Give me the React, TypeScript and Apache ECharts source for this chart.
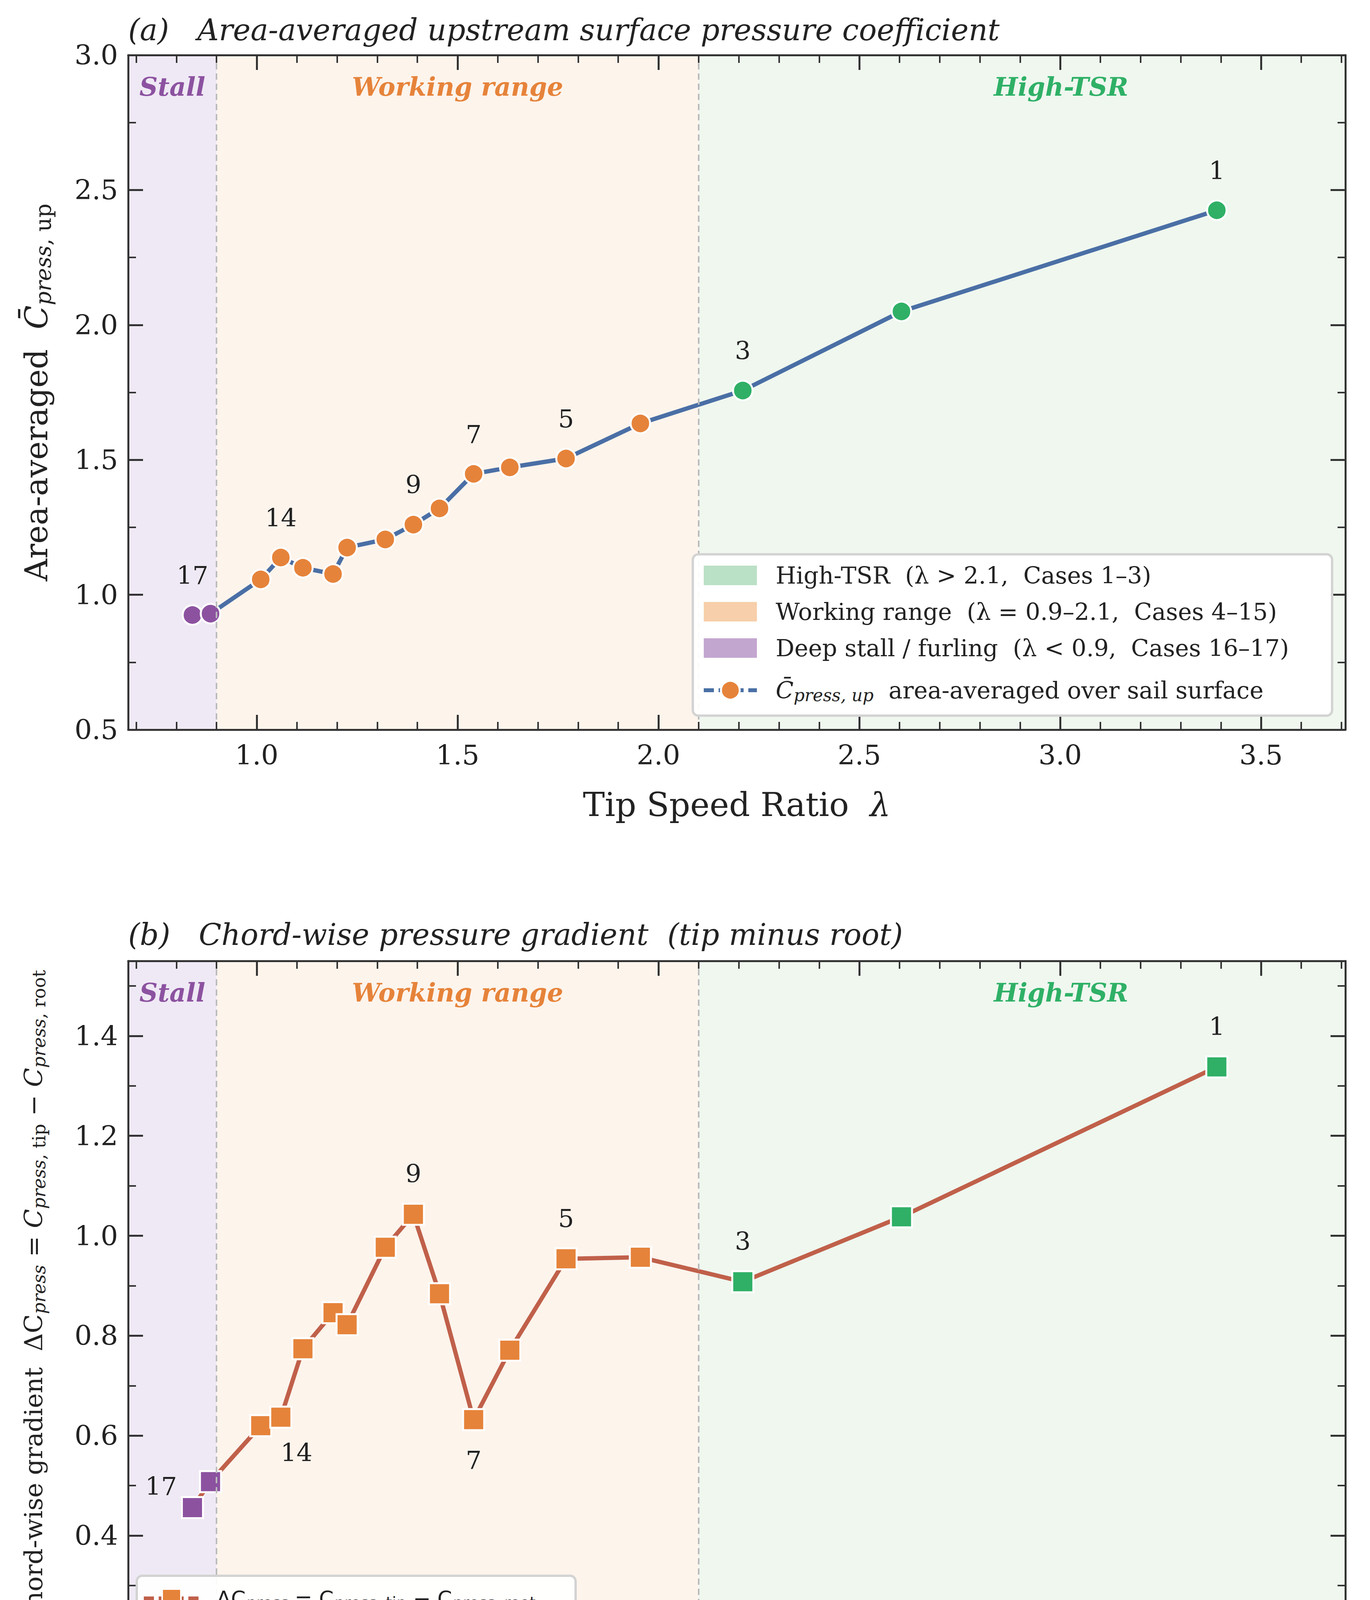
import React, { useEffect, useRef } from 'react';
import * as echarts from 'echarts';

// Case numbers 17 -> 1 (ordered by increasing tip speed ratio)
const caseIds = [17, 16, 15, 14, 13, 12, 11, 10, 9, 8, 7, 6, 5, 4, 3, 2, 1];
const tsr = [0.84, 0.885, 1.01, 1.06, 1.115, 1.19, 1.225, 1.32, 1.39, 1.455, 1.54, 1.63, 1.77, 1.955, 2.21, 2.605, 3.39];
const cpUp = [0.925, 0.93, 1.057, 1.138, 1.1, 1.077, 1.175, 1.205, 1.26, 1.32, 1.448, 1.472, 1.505, 1.635, 1.757, 2.05, 2.425];
const dCp = [0.456, 0.508, 0.62, 0.637, 0.774, 0.846, 0.822, 0.977, 1.043, 0.884, 0.632, 0.771, 0.954, 0.957, 0.908, 1.038, 1.338];
const labelledA = [17, 14, 9, 7, 5, 3, 1];
const labelledB = [17, 14, 9, 7, 5, 3, 1];

const xMajor = [1.0, 1.5, 2.0, 2.5, 3.0, 3.5];
const yMajorA = [0.5, 1.0, 1.5, 2.0, 2.5, 3.0];
const yMajorB = [0.2, 0.4, 0.6, 0.8, 1.0, 1.2, 1.4];

const STALL_MAX = 0.9;
const HIGH_MIN = 2.1;
const X_MIN = 0.68;
const X_MAX = 3.71;

const PURPLE = '#8c52a0';
const ORANGE = '#e6833a';
const GREEN = '#2fb066';
const SERIF = '"DejaVu Serif", serif';
const SANS = '"DejaVu Sans", sans-serif';

const regionColor = (x: number) => (x < STALL_MAX ? PURPLE : x > HIGH_MIN ? GREEN : ORANGE);

const steps = (a: number, b: number, s: number) => {
  const out: number[] = [];
  for (let v = a; v <= b + 1e-9; v += s) out.push(Math.round(v * 1000) / 1000);
  return out;
};

const App: React.FC = () => {
  const ref = useRef<HTMLDivElement | null>(null);

  useEffect(() => {
    document.body.style.margin = '0';
    if (!ref.current) return;
    const chart = echarts.init(ref.current, null, { renderer: 'svg' });

    const L = 328, R = 63, H = 1727;
    const tops = [141, 2460];
    const axisCol = '#333';

    const xAxes: any[] = [];
    const yAxes: any[] = [];
    const mkX = (gi: number, pos: string, vals: number[], len: number, label: boolean, line: boolean) => ({
      gridIndex: gi, type: 'value', min: X_MIN, max: X_MAX, position: pos, z: 10,
      axisLine: { show: line, onZero: false, lineStyle: { color: axisCol, width: 5 } },
      axisTick: { show: true, inside: true, length: len, customValues: vals, lineStyle: { color: axisCol, width: len > 30 ? 5 : 4 } },
      axisLabel: label ? { show: true, customValues: vals, formatter: (v: number) => v.toFixed(1), fontFamily: SERIF, fontSize: 70, color: '#222', margin: 30 } : { show: false },
      splitLine: { show: false },
      name: label ? '{t|Tip Speed Ratio  }{l|λ}' : '',
      nameLocation: 'middle', nameGap: 150,
      nameTextStyle: { rich: { t: { fontFamily: SERIF, fontSize: 84, color: '#222' }, l: { fontFamily: SERIF, fontSize: 84, fontStyle: 'italic', color: '#222' } } },
    });
    const mkY = (gi: number, pos: string, min: number, max: number, vals: number[], len: number, label: boolean, line: boolean, name: string, rich: any, gap: number) => ({
      gridIndex: gi, type: 'value', min, max, position: pos, z: 10,
      axisLine: { show: line, onZero: false, lineStyle: { color: axisCol, width: 5 } },
      axisTick: { show: true, inside: true, length: len, customValues: vals, lineStyle: { color: axisCol, width: len > 30 ? 5 : 4 } },
      axisLabel: label ? { show: true, customValues: vals, formatter: (v: number) => v.toFixed(1), fontFamily: SERIF, fontSize: 70, color: '#222', margin: 26 } : { show: false },
      splitLine: { show: false },
      name, nameLocation: 'middle', nameGap: gap, nameRotate: 90,
      nameTextStyle: { rich },
    });

    const xMinor = steps(0.7, 3.7, 0.1);
    const richA = {
      n: { fontFamily: SERIF, fontSize: 80, color: '#222' },
      c: { fontFamily: SERIF, fontSize: 80, fontStyle: 'italic', color: '#222' },
      s: { fontFamily: SERIF, fontSize: 56, fontStyle: 'italic', color: '#222', padding: [34, 0, 0, 0] },
      u: { fontFamily: SERIF, fontSize: 56, color: '#222', padding: [34, 0, 0, 0] },
    };
    const richB = {
      n: { fontFamily: SERIF, fontSize: 64, color: '#222' },
      c: { fontFamily: SERIF, fontSize: 64, fontStyle: 'italic', color: '#222' },
      s: { fontFamily: SERIF, fontSize: 46, fontStyle: 'italic', color: '#222', padding: [28, 0, 0, 0] },
      u: { fontFamily: SERIF, fontSize: 46, color: '#222', padding: [28, 0, 0, 0] },
    };
    const yCfg = [
      { min: 0.5, max: 3.0, major: yMajorA, minor: steps(0.5, 3.0, 0.25), name: '{n|Area-averaged  }{c|C̄}{s|press}{u|, up}', rich: richA, gap: 190 },
      { min: 0.2, max: 1.55, major: yMajorB, minor: steps(0.2, 1.5, 0.1), name: '{n|Chord-wise gradient  ΔC}{s|press}{n| = }{c|C}{s|press}{u|, tip}{n| − }{c|C}{s|press}{u|, root}', rich: richB, gap: 205 },
    ];
    [0, 1].forEach((gi) => {
      xAxes.push(mkX(gi, 'bottom', xMajor, 38, true, true));
      xAxes.push(mkX(gi, 'bottom', xMinor, 20, false, false));
      xAxes.push(mkX(gi, 'top', xMajor, 38, false, true));
      xAxes.push(mkX(gi, 'top', xMinor, 20, false, false));
      const c = yCfg[gi];
      yAxes.push(mkY(gi, 'left', c.min, c.max, c.major, 38, true, true, c.name, c.rich, c.gap));
      yAxes.push(mkY(gi, 'left', c.min, c.max, c.minor, 20, false, false, '', {}, 0));
      yAxes.push(mkY(gi, 'right', c.min, c.max, c.major, 38, false, true, '', {}, 0));
      yAxes.push(mkY(gi, 'right', c.min, c.max, c.minor, 20, false, false, '', {}, 0));
    });

    const regionLabel = (color: string) => ({
      show: true, position: 'insideTop', distance: 48, color,
      fontFamily: SERIF, fontSize: 65, fontWeight: 'bold', fontStyle: 'italic',
    });
    const markArea = {
      silent: true,
      data: [
        [{ xAxis: X_MIN, name: 'Stall', itemStyle: { color: '#efe9f5' }, label: regionLabel(PURPLE) }, { xAxis: STALL_MAX }],
        [{ xAxis: STALL_MAX, name: 'Working range', itemStyle: { color: '#fdf4ec' }, label: regionLabel(ORANGE) }, { xAxis: HIGH_MIN }],
        [{ xAxis: HIGH_MIN, name: 'High-TSR', itemStyle: { color: '#eff7ef' }, label: { ...regionLabel(GREEN), offset: [100, 0] } }, { xAxis: X_MAX }],
      ],
    };
    const markLine = {
      silent: true, symbol: 'none', label: { show: false },
      lineStyle: { color: '#bbbbbb', type: [16, 10], width: 4 },
      data: [{ xAxis: STALL_MAX }, { xAxis: HIGH_MIN }],
    };

    const pointsA = tsr.map((x, i) => {
      const id = caseIds[i];
      const lab = labelledA.includes(id);
      return {
        value: [x, cpUp[i]],
        itemStyle: { color: regionColor(x) },
        label: { show: lab, formatter: String(id), position: 'top', distance: 42 },
      };
    });
    const pointsB = tsr.map((x, i) => {
      const id = caseIds[i];
      const lab = labelledB.includes(id);
      let label: any = { show: lab, formatter: String(id), position: 'top', distance: 42 };
      if (id === 7) label = { ...label, position: 'bottom', distance: 42 };
      if (id === 14) label = { ...label, position: 'bottom', distance: 30, offset: [40, 0] };
      if (id === 17) label = { ...label, position: 'left', distance: 10, offset: [0, -55] };
      return { value: [x, dCp[i]], itemStyle: { color: regionColor(x) }, label };
    });
    const labelStyle = { fontFamily: SERIF, fontSize: 64, color: '#222' };

    const legendA = () => {
      const x0 = 1773, y0 = 1419, w = 1636, h = 413;
      const rows = [1473, 1566, 1659, 1767];
      const items: any[] = [
        { type: 'rect', z: 20, shape: { x: x0, y: y0, width: w, height: h, r: 14 }, style: { fill: 'rgba(255,255,255,0.92)', stroke: '#d3d3d3', lineWidth: 6 } },
      ];
      const patches = [['#bae0c5', 'High-TSR  (λ > 2.1,  Cases 1–3)'], ['#f7cfaa', 'Working range  (λ = 0.9–2.1,  Cases 4–15)'], ['#c3a6d0', 'Deep stall / furling  (λ < 0.9,  Cases 16–17)']];
      patches.forEach(([c, t], i) => {
        items.push({ type: 'rect', z: 21, shape: { x: 1801, y: rows[i] - 25, width: 136, height: 50 }, style: { fill: c } });
        items.push({ type: 'text', z: 21, x: 1985, y: rows[i], style: { text: t, fontFamily: SERIF, fontSize: 60, fill: '#222', verticalAlign: 'middle' } });
      });
      items.push({ type: 'line', z: 21, shape: { x1: 1801, y1: rows[3], x2: 1937, y2: rows[3] }, style: { stroke: '#4a6fa5', lineWidth: 10, lineDash: [26, 12] } });
      items.push({ type: 'circle', z: 22, shape: { cx: 1869, cy: rows[3], r: 24 }, style: { fill: ORANGE, stroke: '#fff', lineWidth: 5 } });
      items.push({
        type: 'text', z: 21, x: 1985, y: rows[3],
        style: {
          text: '{c|C̄}{s|press, up}{n|  area-averaged over sail surface}', verticalAlign: 'middle',
          rich: {
            c: { fontFamily: SERIF, fontSize: 60, fontStyle: 'italic', fill: '#222' },
            s: { fontFamily: SERIF, fontSize: 44, fontStyle: 'italic', fill: '#222', padding: [24, 0, 0, 0] },
            n: { fontFamily: SERIF, fontSize: 60, fill: '#222' },
          },
        },
      });
      return items;
    };
    const legendB = () => {
      const y = 4092;
      return [
        { type: 'rect', z: 20, shape: { x: 350, y: 4034, width: 1123, height: 116, r: 14 }, style: { fill: 'rgba(255,255,255,0.92)', stroke: '#d3d3d3', lineWidth: 6 } },
        { type: 'line', z: 21, shape: { x1: 368, y1: y, x2: 515, y2: y }, style: { stroke: '#c0604a', lineWidth: 10, lineDash: [26, 12] } },
        { type: 'rect', z: 22, shape: { x: 415, y: y - 24, width: 48, height: 48 }, style: { fill: ORANGE, stroke: '#fff', lineWidth: 4 } },
        {
          type: 'text', z: 21, x: 554, y,
          style: {
            text: '{n|ΔC}{s|press}{n| = C}{s|press}{u|, tip}{n| − C}{s|press}{u|, root}', verticalAlign: 'middle',
            rich: {
              n: { fontFamily: SANS, fontSize: 54, fill: '#222' },
              s: { fontFamily: SANS, fontSize: 40, fontStyle: 'italic', fill: '#222', padding: [22, 0, 0, 0] },
              u: { fontFamily: SANS, fontSize: 40, fill: '#222', padding: [22, 0, 0, 0] },
            },
          },
        },
      ];
    };

    const titleStyle = { fontFamily: SERIF, fontSize: 76, fontStyle: 'italic', fill: '#222', verticalAlign: 'middle' };

    chart.setOption({
      animation: false,
      backgroundColor: '#ffffff',
      grid: tops.map((t) => ({ left: L, right: R, top: t, height: H, show: false, containLabel: false })),
      xAxis: xAxes,
      yAxis: yAxes,
      series: [
        {
          type: 'line', xAxisIndex: 0, yAxisIndex: 0, data: pointsA,
          symbol: 'circle', symbolSize: 50,
          lineStyle: { color: '#4a6fa5', width: 11 },
          itemStyle: { borderColor: '#fff', borderWidth: 5 },
          label: labelStyle, markArea, markLine, z: 3,
        },
        {
          type: 'line', xAxisIndex: 4, yAxisIndex: 4, data: pointsB,
          symbol: 'rect', symbolSize: 54,
          lineStyle: { color: '#c0604a', width: 11 },
          itemStyle: { borderColor: '#fff', borderWidth: 5 },
          label: labelStyle, markArea, markLine, z: 3,
        },
      ],
      graphic: [
        { type: 'text', x: 328, y: 76, style: { ...titleStyle, text: '(a)   Area-averaged upstream surface pressure coefficient' } },
        { type: 'text', x: 328, y: 2392, style: { ...titleStyle, text: '(b)   Chord-wise pressure gradient  (tip minus root)' } },
        ...legendA(),
        ...legendB(),
      ],
    });

    return () => {
      chart.dispose();
    };
  }, []);

  return <div ref={ref} style={{ width: '3506px', height: '4451px' }} />;
};

export default App;
